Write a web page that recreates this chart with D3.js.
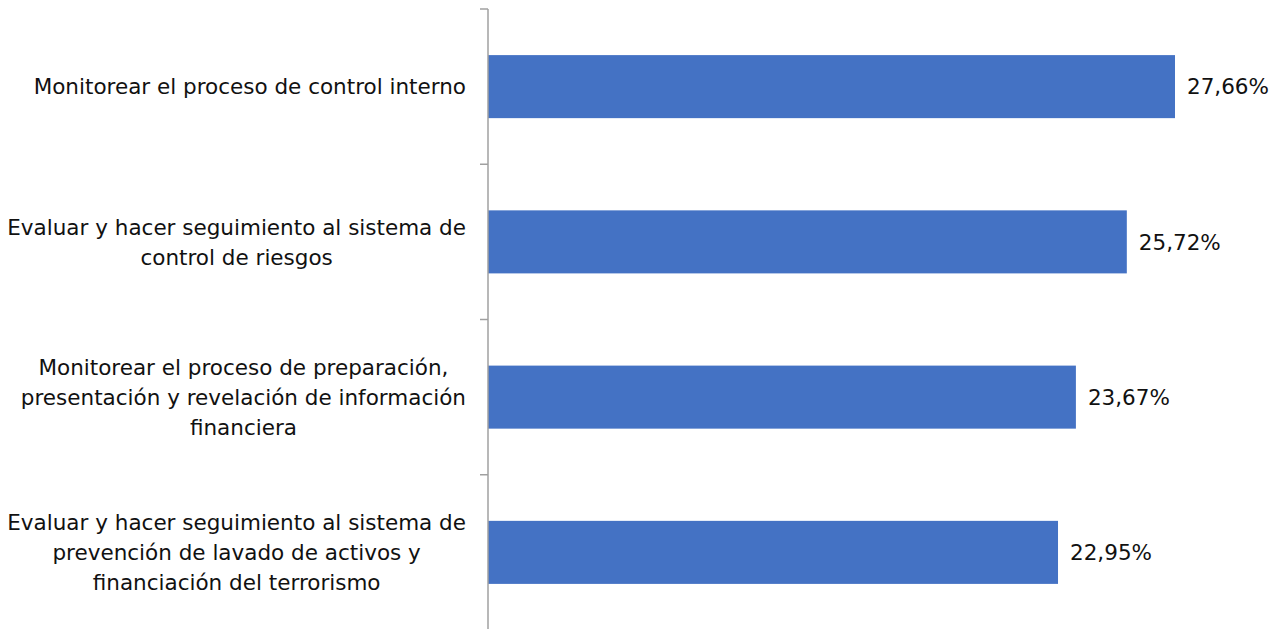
<!DOCTYPE html>
<html>
<head>
<meta charset="utf-8">
<script src="https://cdn.jsdelivr.net/npm/d3@7"></script>
<style>
  body { margin: 0; background: #fff; }
  text { font-family: "DejaVu Sans", sans-serif; fill: #111; }
</style>
</head>
<body>
<svg id="chart" width="1276" height="629"></svg>
<script>
// category labels, already split into the lines shown in the chart
var categories = [
    ["Monitorear el proceso de control interno"],
    ["Evaluar y hacer seguimiento al sistema de", "control de riesgos"],
    ["Monitorear el proceso de preparación,", "presentación y revelación de información", "financiera"],
    ["Evaluar y hacer seguimiento al sistema de", "prevención de lavado de activos y", "financiación del terrorismo"]
];
var values = [27.66, 25.72, 23.67, 22.95];

var svg = d3.select("#chart");
var axisX = 488;
var top_ = 9, bottom = 630;
var fontSize = 21.5;
var lineHeight = 30;

var keys = categories.map(function(d, i) { return "c" + i; });

var y = d3.scaleBand()
    .domain(keys)
    .range([top_, bottom])
    .paddingInner(0.594)
    .paddingOuter(0.297);

var x = d3.scaleLinear()
    .domain([0, 27.66])
    .range([axisX, 1175]);

var locale = d3.formatLocale({ decimal: ",", thousands: ".", grouping: [3], currency: ["", "€"] });
var fmt = locale.format(".2f");

// bars
svg.append("g").selectAll("rect")
    .data(values)
    .enter().append("rect")
    .attr("x", x(0))
    .attr("y", function(d, i) { return y(keys[i]); })
    .attr("width", function(d) { return x(d) - x(0); })
    .attr("height", y.bandwidth())
    .attr("fill", "#4472c4");

// axis line and ticks at band boundaries
var axis = svg.append("g").attr("stroke", "#a0a0a0").attr("stroke-width", 1.5);
axis.append("line")
    .attr("x1", axisX).attr("x2", axisX)
    .attr("y1", top_).attr("y2", bottom);
var step = y.step();
d3.range(keys.length).forEach(function(i) {
    var ty = top_ + i * step;
    axis.append("line")
        .attr("x1", axisX - 8).attr("x2", axisX)
        .attr("y1", ty).attr("y2", ty);
});

// value labels
svg.append("g").selectAll("text")
    .data(values)
    .enter().append("text")
    .attr("x", function(d) { return x(d) + 12; })
    .attr("y", function(d, i) { return y(keys[i]) + y.bandwidth() / 2; })
    .attr("dy", "0.36em")
    .attr("font-size", fontSize)
    .text(function(d) { return fmt(d) + "%"; });

// category labels: block right-aligned to the axis, lines centred within the block
var labelRight = 466;
categories.forEach(function(lines, i) {
    var cy = y(keys[i]) + y.bandwidth() / 2;
    var g = svg.append("g");
    var t = g.append("text")
        .attr("font-size", fontSize)
        .attr("text-anchor", "middle");
    var n = lines.length;
    lines.forEach(function(line, j) {
        t.append("tspan")
            .attr("x", 0)
            .attr("y", cy + (j - (n - 1) / 2) * lineHeight)
            .attr("dy", "0.36em")
            .text(line);
    });
    var w = 0;
    t.selectAll("tspan").each(function() { w = Math.max(w, this.getComputedTextLength()); });
    t.selectAll("tspan").attr("x", labelRight - w / 2);
});
</script>
</body>
</html>
